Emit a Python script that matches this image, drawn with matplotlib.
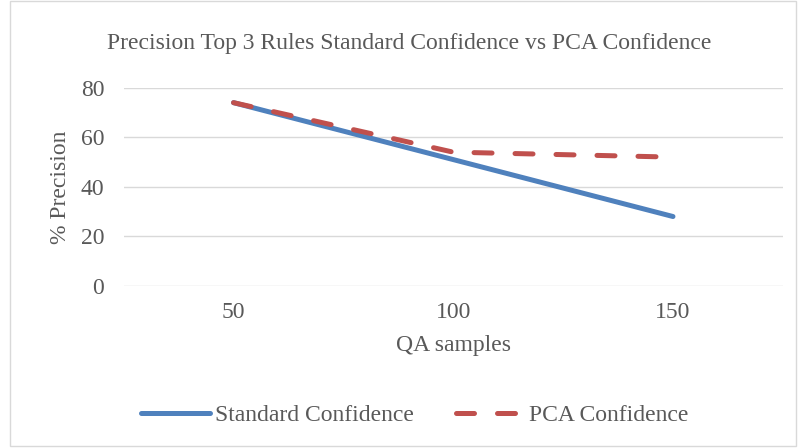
import matplotlib.pyplot as plt
from matplotlib.patches import Rectangle

# chart data
qa_samples = ["50", "100", "150"]
standard_conf = [74, 51, 28]
pca_conf = [74, 54, 52]

plt.rcParams['font.family'] = ['Liberation Serif', 'DejaVu Serif']

fig = plt.figure(figsize=(7.98, 4.48), dpi=100)
ax = fig.add_axes([0.155, 0.362, 0.826, 0.442])

x = range(len(qa_samples))
ax.plot(x, standard_conf, color="#4F81BD", linewidth=3.6, solid_capstyle="round",
        label="Standard Confidence")
ax.plot(x, pca_conf, color="#C0504D", linewidth=3.6, dashes=(3.6, 4.6),
        dash_capstyle="round", label="PCA Confidence")

ax.set_xlim(-0.5, 2.5)
ax.set_ylim(0, 80)
ax.set_yticks([0, 20, 40, 60, 80])
ax.set_xticks(list(x))
ax.set_xticklabels(qa_samples)
ax.tick_params(length=0, labelsize=17, labelcolor="#595959")
ax.tick_params(axis="y", pad=14)
ax.tick_params(axis="x", pad=12)
ax.grid(axis="y", color="#D9D9D9", linewidth=1)
ax.set_axisbelow(True)
for s in ax.spines.values():
    s.set_visible(False)

ax.set_xlabel("QA samples", fontsize=17, color="#595959", labelpad=8)
ax.set_ylabel("% Precision", fontsize=17, color="#595959", labelpad=7)
fig.text(0.513, 0.902, "Precision Top 3 Rules Standard Confidence vs PCA Confidence",
         ha="center", va="center", fontsize=17, color="#595959")

leg = fig.legend(loc="center", bbox_to_anchor=(0.52, 0.073), ncol=2, frameon=False,
                 fontsize=17, handlelength=2.9, columnspacing=1.8, handletextpad=0.2)
for t in leg.get_texts():
    t.set_color("#595959")

# outer chart border like the spreadsheet chart area
fig.patches.append(Rectangle((0.012, 0.004), 0.985, 0.994, transform=fig.transFigure,
                             fill=False, edgecolor="#D9D9D9", linewidth=1))

fig.savefig("out.png", dpi=100)
